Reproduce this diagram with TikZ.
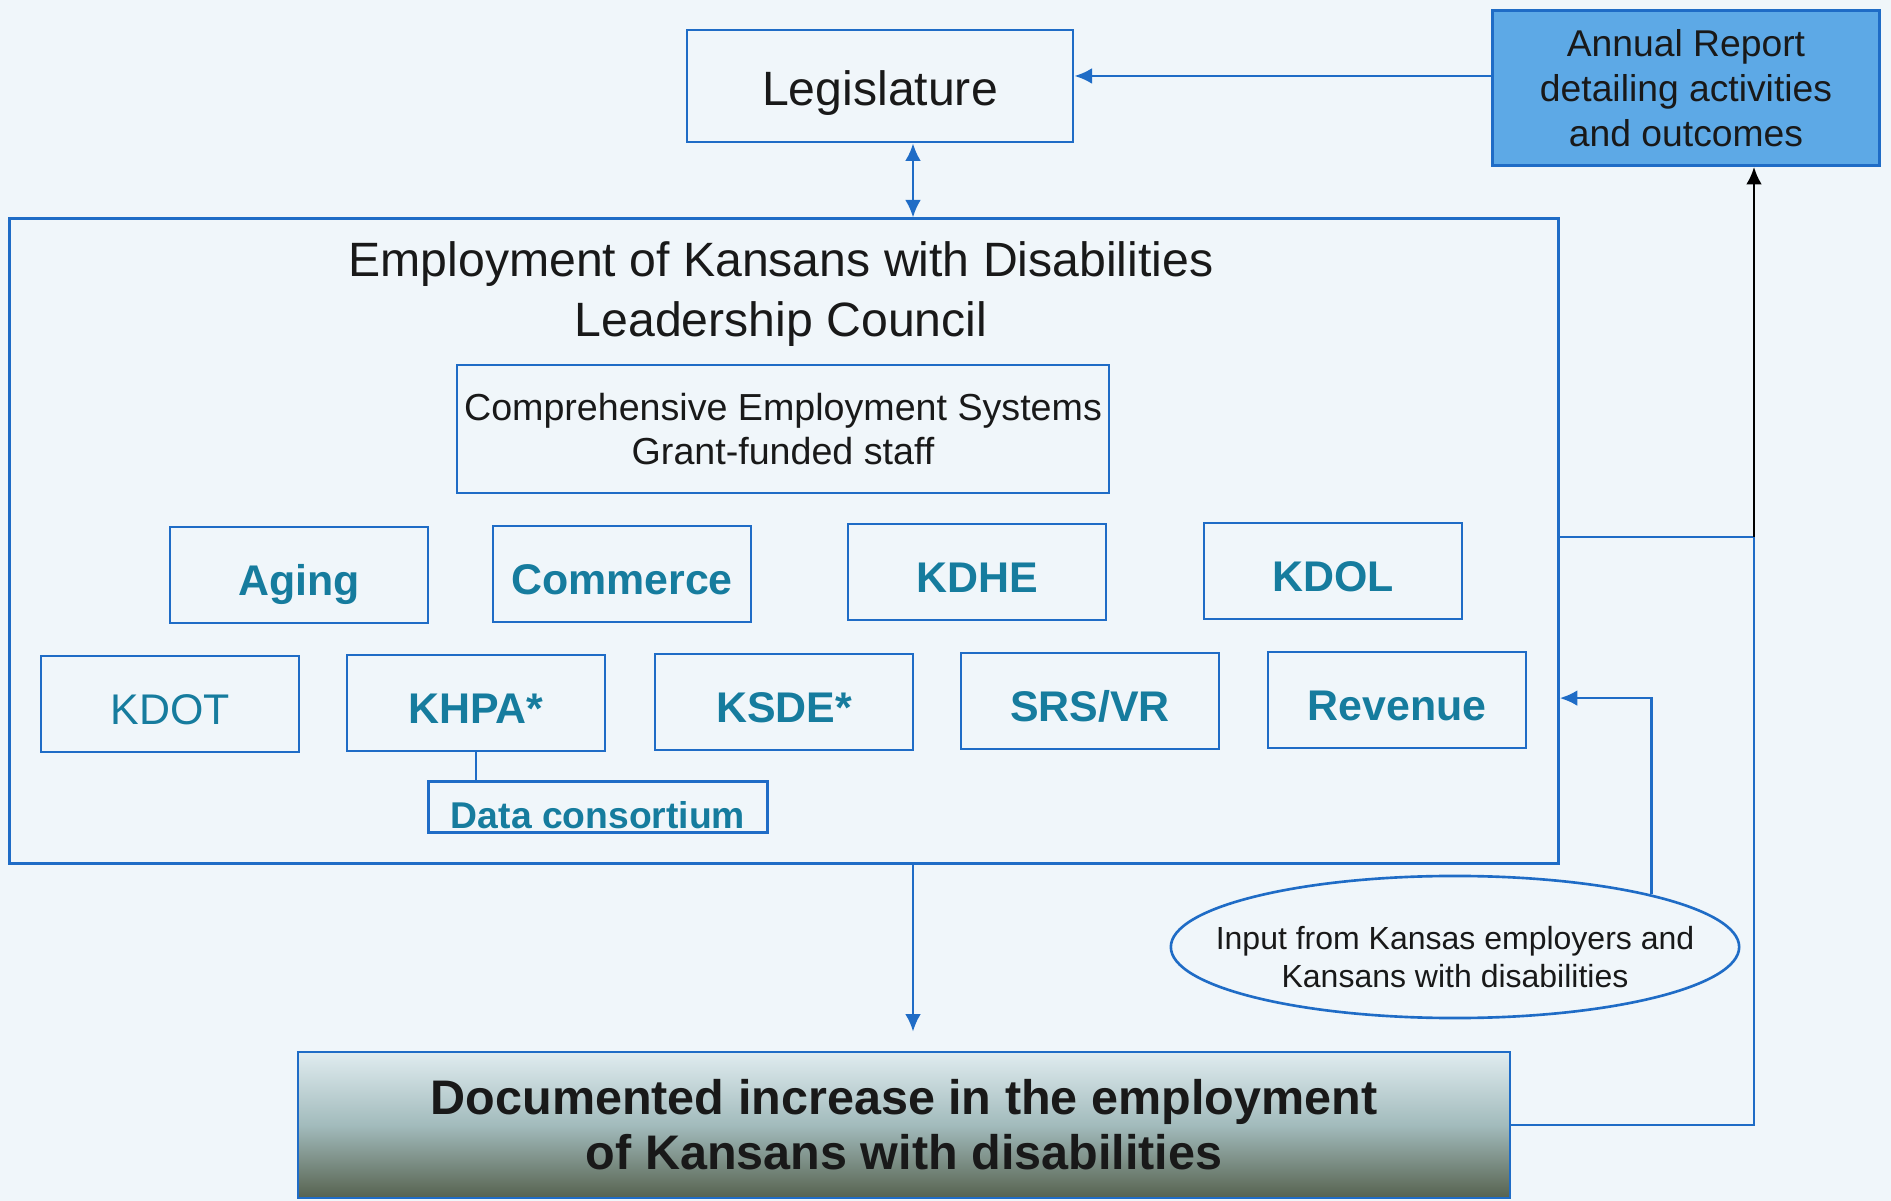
\documentclass[tikz,border=0pt]{standalone}
\usepackage{fontspec}
\setmainfont{Liberation Sans}
\usetikzlibrary{arrows.meta,shapes.geometric}

\definecolor{boxblue}{HTML}{1F6CC6}
\definecolor{agencyteal}{HTML}{167C9E}
\definecolor{reportblue}{HTML}{5DA9E6}
\definecolor{paper}{HTML}{F0F6FA}
\definecolor{docstop}{HTML}{E0ECF0}
\definecolor{docsmid}{HTML}{A2BBBC}
\definecolor{docsbottom}{HTML}{56624F}

\begin{document}
\begin{tikzpicture}[x=0.01cm, y=-0.01cm, >={Latex[length=5pt,width=4.5pt]},
        every node/.style={text=black!90},
        frame/.style={draw=boxblue, line width=0.75pt},
        agency/.style={frame, minimum width=2.58cm, minimum height=0.96cm, text height=11.5pt, text depth=0pt, text=agencyteal, font=\fontsize{12.2}{14}\selectfont\bfseries},
        link/.style={draw=boxblue, line width=0.75pt}]
        % Paper
        \fill[paper] (0,0) rectangle (1891,1201);

        % Top boxes
        \node[frame, minimum width=3.86cm, minimum height=1.12cm, text height=11.2pt, text depth=0pt, font=\fontsize{13.7}{16}\selectfont] (legis) at (880,86) {Legislature};
        \node[frame, fill=reportblue, minimum width=3.87cm, minimum height=1.55cm, align=center, font=\fontsize{10.6}{12.8}\selectfont] (report) at (1686,88) {Annual Report\\detailing activities\\and outcomes};

        % Council and its members
        \node[frame, minimum width=15.48cm, minimum height=6.44cm] (council) at (784,541) {};
        \node[font=\fontsize{13.7}{17}\selectfont, align=center] (title) at (781,294) {Employment of Kansans with Disabilities\\Leadership Council};
        \node[frame, minimum width=6.45cm, minimum height=1.28cm, inner xsep=2pt, align=center, font=\fontsize{10.7}{12.5}\selectfont] (ces) at (783,429) {Comprehensive Employment Systems\\Grant-funded staff};
        \node[agency] (aging) at (299,575) {Aging};
        \node[agency] (commerce) at (622,574) {Commerce};
        \node[agency] (kdhe) at (977,572) {KDHE};
        \node[agency] (kdol) at (1333,571) {KDOL};
        \node[agency, font=\fontsize{12.2}{14}\selectfont] (kdot) at (170,704) {KDOT};
        \node[agency] (khpa) at (476,703) {KHPA*};
        \node[agency] (ksde) at (784,702) {KSDE*};
        \node[agency] (srsvr) at (1090,701) {SRS/VR};
        \node[agency] (revenue) at (1397,700) {Revenue};
        \node[frame, minimum width=3.39cm, minimum height=0.51cm, inner sep=0pt, text height=0.43cm, text depth=0pt, text=agencyteal, font=\fontsize{10.6}{12}\selectfont\bfseries] (data) at (598,807) {Data consortium};

        % Outcome and input
        \node[frame, top color=docstop, bottom color=docsbottom, middle color=docsmid, minimum width=12.11cm, minimum height=1.46cm, align=center, font=\fontsize{13.8}{15.6}\selectfont\bfseries] (docs) at (904,1125) {Documented increase in the employment\\of Kansans with disabilities};
        \node[ellipse, frame, minimum width=5.68cm, minimum height=1.42cm] (input) at (1455,947) {};
        \node[align=center, font=\fontsize{9.1}{10.6}\selectfont] (inputtext) at (1455,957) {Input from Kansas employers and\\Kansans with disabilities};

        % Connectors
        \coordinate (spine) at (913,0);
        \coordinate (join) at (1754,537);
        \draw[link, <->] (spine |- legis.south) -- (spine |- council.north);
        \draw[link, ->, shorten >=0.19cm] (spine |- council.south) -- (spine |- docs.north);
        \draw[link, ->] ([yshift=0.12cm]report.west) -- ([yshift=0.12cm]report.west -| legis.east);
        \draw[draw=boxblue, line width=0.6pt] (khpa.south) -- (khpa.south |- data.north);
        \draw[link] (docs.east) -| (join);
        \draw[link] (council.east |- join) -- (join);
        \draw[line width=0.75pt, ->] (join) -- (join |- report.south);
        \draw[link, ->] (input.15) |- ([yshift=-1.57cm]council.east);
    \end{tikzpicture}
\end{document}
